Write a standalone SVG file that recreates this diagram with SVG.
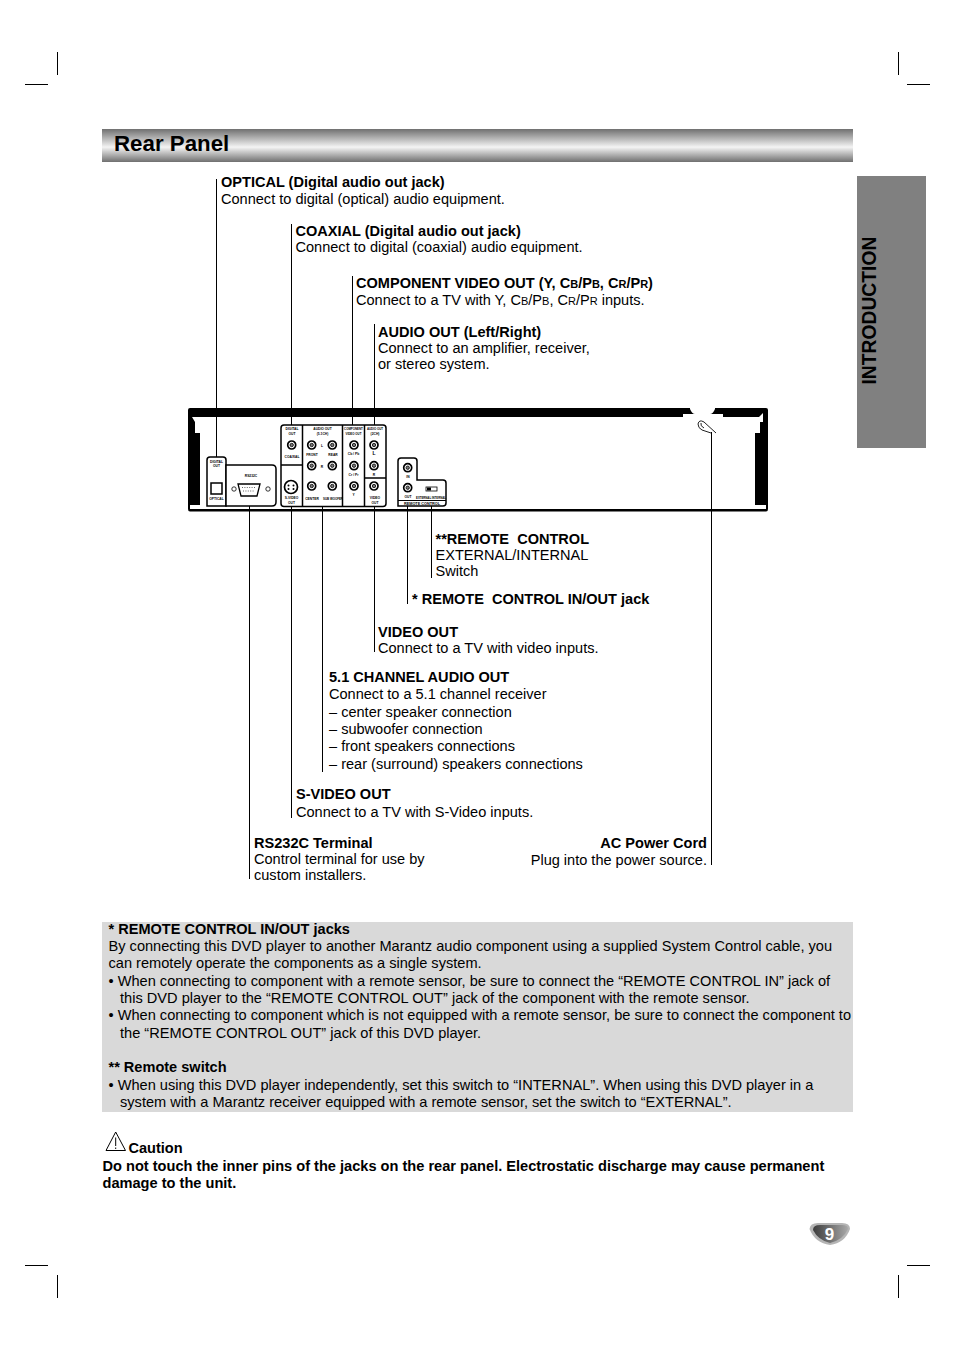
<svg xmlns="http://www.w3.org/2000/svg" width="954" height="1351" viewBox="0 0 954 1351">
<style>
text{font-family:"Liberation Sans",Arial,sans-serif;font-size:14.55px;fill:#000}
.b{font-weight:bold}
.s{font-size:11px}
.m{stroke:#000;stroke-width:1;fill:none}
.l{stroke:#000;stroke-width:1;fill:none}
.p{stroke:#000;stroke-width:1.5;fill:#fff}
.t{font-size:3.3px;font-weight:bold;text-anchor:middle}
.j1{fill:#fff;stroke:#000;stroke-width:1.7}
.j2{fill:#777;stroke:#000;stroke-width:.8}
</style>
<defs>
<linearGradient id="hdr" x1="0" y1="0" x2="0" y2="1">
<stop offset="0" stop-color="#707070"/><stop offset=".55" stop-color="#f4f4f4"/><stop offset="1" stop-color="#707070"/>
</linearGradient>
<linearGradient id="badge" x1="0" y1="0" x2="1" y2="0">
<stop offset="0" stop-color="#3c3c3c"/><stop offset="1" stop-color="#a8a8a8"/>
</linearGradient>
<g id="jack"><circle r="4" class="j1"/><circle r="1.7" class="j2"/></g>
</defs>
<rect width="954" height="1351" fill="#fff"/>

<g id="crop-marks">
<path class="m" d="M57.5 52V75M25 84.500H48M898.500 52V75M907 84.500H930M57.500 1275V1298M25 1265.500H48M898.500 1275V1298M907 1265.500H930"/>
</g>

<g id="header">
<rect x="102" y="129" width="751" height="33" fill="url(#hdr)"/>
<text x="114" y="151" class="b" style="font-size:22.300px">Rear Panel</text>
</g>

<g id="side-tab">
<rect x="857" y="176" width="69" height="272" fill="#808080"/>
<text transform="translate(876 384.500) rotate(-90)" class="b" style="font-size:19.300px">INTRODUCTION</text>
</g>

<g id="connectors">
<path class="l" d="M216.500 179V457M291.500 224V425M352.500 276V425M374.500 324V425M249.500 490V879M291.500 506V818M322.500 506V772M374.500 506V652M407.500 506V604M431.500 505V578M711.500 432V865"/>
</g>

<g id="rear-panel">
<path fill="#000" fill-rule="evenodd" d="M190 408H766Q768 408 768 410V509Q768 511.500 766 511.500H190Q188 511.500 188 509V410Q188 408 190 408ZM192 417H683V414H723V417H759L763 413V422H760V433H755V505H766V509H190V505H200V433H195V422Z"/>
<path fill="#fff" d="M690 407H715V409Q713 414 710 414H695Q692 414 690 409Z"/>
<g id="ac-cord" fill="none" stroke="#222" stroke-width="1">
<path d="M698 424Q699 419 704 422L716 433"/><path d="M698 424Q698 428 702 430L711 433"/><path d="M701 423Q700 426 704 428"/>
</g>
<g id="optical-block">
<path class="p" d="M207 506V460Q207 457 210 457H223Q226 457 226 460V506Z"/>
<rect x="211" y="483" width="11" height="11" fill="#fff" stroke="#000" stroke-width="1.500"/>
<text x="216.500" y="462.500" class="t">DIGITAL</text><text x="216.500" y="467" class="t">OUT</text>
<text x="216.500" y="500" class="t">OPTICAL</text>
</g>
<g id="rs232-block">
<path class="p" d="M226 465H272Q276 465 276 469V502Q276 506 272 506H226Z"/>
<text x="251" y="477" class="t">RS232C</text>
<path d="M238 484H260L257 496H241Z" fill="#fff" stroke="#000" stroke-width="1.300"/>
<path d="M242 487.500H256M243 491H255" stroke="#555" stroke-width=".9" stroke-dasharray="1 1.400"/>
<circle cx="234" cy="489" r="2.200" fill="#fff" stroke="#000" stroke-width=".8"/>
<circle cx="268" cy="489" r="2.200" fill="#fff" stroke="#000" stroke-width=".8"/>
</g>
<g id="main-block">
<rect x="281" y="425" width="105" height="81.500" rx="3" class="p"/>
<path stroke="#000" stroke-width="1.500" fill="none" d="M302.500 425V506M342.500 425V506M364.500 425V506M281 465H302.500M364.500 478H386"/>
<use href="#jack" x="291.700" y="445"/>
<use href="#jack" x="311.700" y="445"/><use href="#jack" x="332.300" y="445"/>
<use href="#jack" x="311.700" y="465.700"/><use href="#jack" x="332.300" y="465.700"/>
<use href="#jack" x="311.700" y="486"/><use href="#jack" x="332.300" y="486"/>
<use href="#jack" x="354" y="445"/><use href="#jack" x="354" y="465.700"/><use href="#jack" x="354" y="486"/>
<use href="#jack" x="374" y="445"/><use href="#jack" x="374" y="465.700"/><use href="#jack" x="374" y="486"/>
<circle cx="291" cy="487" r="6.500" fill="#fff" stroke="#000" stroke-width="1.700"/>
<circle cx="288.500" cy="485.500" r="1" fill="#000"/><circle cx="293.500" cy="485.500" r="1" fill="#000"/><circle cx="288.500" cy="489" r="1" fill="#000"/><circle cx="293.500" cy="489" r="1" fill="#000"/>
<text x="292" y="430" class="t">DIGITAL</text><text x="292" y="434.500" class="t">OUT</text><text x="292" y="457.500" class="t">COAXIAL</text>
<text x="322.500" y="430" class="t">AUDIO OUT</text><text x="322.500" y="434.500" class="t">(5.1CH)</text>
<text x="322" y="447" class="t">L</text><text x="322" y="467.500" class="t">R</text>
<text x="312" y="456" class="t">FRONT</text><text x="333" y="456" class="t">REAR</text>
<text x="312" y="500" class="t">CENTER</text><text x="333" y="500" class="t" style="font-size:2.900px">SUB WOOFER</text>
<text x="353.500" y="430" class="t" style="font-size:2.900px">COMPONENT</text><text x="353.500" y="434.500" class="t" style="font-size:2.900px">VIDEO OUT</text>
<text x="353.500" y="455" class="t">Cb / Pb</text><text x="353.500" y="476" class="t">Cr / Pr</text><text x="353.500" y="496" class="t">Y</text>
<text x="375" y="430" class="t" style="font-size:2.900px">AUDIO OUT</text><text x="375" y="434.500" class="t">(2CH)</text>
<text x="374" y="455" class="t" style="font-size:5px">L</text><text x="374" y="476" class="t">R</text>
<text x="375" y="499" class="t">VIDEO</text><text x="375" y="504" class="t">OUT</text>
<text x="291.500" y="499" class="t">S-VIDEO</text><text x="291.500" y="504" class="t">OUT</text>
</g>
<g id="remote-block">
<path class="p" d="M398 506V461Q398 458 401 458H414Q417 458 417 461V480H443Q446 480 446 483V503Q446 506 443 506Z"/>
<path stroke="#000" stroke-width="1" d="M398 500.500H446"/>
<use href="#jack" x="407.700" y="467.700"/><use href="#jack" x="407.700" y="487.700"/>
<text x="408" y="478" class="t">IN</text><text x="408" y="498" class="t">OUT</text>
<rect x="426" y="487" width="11" height="4" fill="#fff" stroke="#000" stroke-width=".8"/><rect x="427" y="487.500" width="4" height="3" fill="#000"/>
<text x="431" y="498.500" class="t" style="font-size:2.800px">EXTERNAL INTERNAL</text>
<text x="422" y="505" class="t" style="font-size:3.800px">REMOTE CONTROL</text>
</g>
</g>

<g id="label-optical"><text x="221" y="187" class="b">OPTICAL (Digital audio out jack)</text><text x="221" y="204">Connect to digital (optical) audio equipment.</text></g>
<g id="label-coaxial"><text x="295.500" y="236" class="b">COAXIAL (Digital audio out jack)</text><text x="295.500" y="252">Connect to digital (coaxial) audio equipment.</text></g>
<g id="label-component"><text x="356" y="288" class="b">COMPONENT VIDEO OUT (Y, C<tspan class="s">B</tspan>/P<tspan class="s">B</tspan>, C<tspan class="s">R</tspan>/P<tspan class="s">R</tspan>)</text><text x="356" y="305">Connect to a TV with Y, C<tspan class="s">B</tspan>/P<tspan class="s">B</tspan>, C<tspan class="s">R</tspan>/P<tspan class="s">R</tspan> inputs.</text></g>
<g id="label-audio"><text x="378" y="337" class="b">AUDIO OUT (Left/Right)</text><text x="378" y="353">Connect to an amplifier, receiver,</text><text x="378" y="369">or stereo system.</text></g>
<g id="label-remote-switch"><text x="435.500" y="544" class="b" xml:space="preserve">**REMOTE  CONTROL</text><text x="435.500" y="560">EXTERNAL/INTERNAL</text><text x="435.500" y="576">Switch</text></g>
<g id="label-remote-jack"><text x="412" y="604" class="b" xml:space="preserve">* REMOTE  CONTROL IN/OUT jack</text></g>
<g id="label-video"><text x="378" y="637" class="b">VIDEO OUT</text><text x="378" y="653">Connect to a TV with video inputs.</text></g>
<g id="label-51"><text x="329" y="682" class="b">5.1 CHANNEL AUDIO OUT</text><text x="329" y="699">Connect to a 5.1 channel receiver</text><text x="329" y="717">– center speaker connection</text><text x="329" y="734">– subwoofer connection</text><text x="329" y="751">– front speakers connections</text><text x="329" y="769">– rear (surround) speakers connections</text></g>
<g id="label-svideo"><text x="296" y="799" class="b">S-VIDEO OUT</text><text x="296" y="817">Connect to a TV with S-Video inputs.</text></g>
<g id="label-rs232"><text x="254" y="848" class="b">RS232C Terminal</text><text x="254" y="864">Control terminal for use by</text><text x="254" y="880">custom installers.</text></g>
<g id="label-ac"><text x="707" y="848" class="b" text-anchor="end">AC Power Cord</text><text x="707" y="865" text-anchor="end">Plug into the power source.</text></g>

<g id="notes">
<rect x="102" y="922" width="751" height="190" fill="#d9d9d9"/>
<text x="108.500" y="934" class="b">* REMOTE CONTROL IN/OUT jacks</text>
<text x="108.500" y="951" style="font-size:14.600px">By connecting this DVD player to another Marantz audio component using a supplied System Control cable, you</text>
<text x="108.500" y="968" style="font-size:14.600px">can remotely operate the components as a single system.</text>
<text x="108.500" y="986" style="font-size:14.600px">• When connecting to component with a remote sensor, be sure to connect the “REMOTE CONTROL IN” jack of</text>
<text x="120" y="1003" style="font-size:14.600px">this DVD player to the “REMOTE CONTROL OUT” jack of the component with the remote sensor.</text>
<text x="108.500" y="1020" style="font-size:14.600px">• When connecting to component which is not equipped with a remote sensor, be sure to connect the component to</text>
<text x="120" y="1038" style="font-size:14.600px">the “REMOTE CONTROL OUT” jack of this DVD player.</text>
<text x="108.500" y="1072" class="b">** Remote switch</text>
<text x="108.500" y="1090" style="font-size:14.600px">• When using this DVD player independently, set this switch to “INTERNAL”. When using this DVD player in a</text>
<text x="120" y="1107" style="font-size:14.600px">system with a Marantz receiver equipped with a remote sensor, set the switch to “EXTERNAL”.</text>
</g>

<g id="caution">
<path d="M115.700 1132L106 1150.500H125.500Z" fill="#fff" stroke="#000" stroke-width="1"/>
<path d="M115.700 1137.500V1146M115.700 1147.500V1149" stroke="#000" stroke-width="1"/>
<text x="128.500" y="1153" class="b">Caution</text>
<text x="102.500" y="1171" class="b" style="font-size:14.600px">Do not touch the inner pins of the jacks on the rear panel. Electrostatic discharge may cause permanent</text>
<text x="102.500" y="1188" class="b" style="font-size:14.600px">damage to the unit.</text>
</g>

<g id="page-badge">
<path d="M809.500 1229Q810 1223 818 1223H842Q850 1223 850 1229Q845 1243 830 1245Q815 1243 809.500 1229Z" fill="#b5b5b5"/>
<path d="M813 1230Q813 1225 820 1225H842Q848 1225 848 1229Q843 1240 830 1243Q818 1240 813 1230Z" fill="url(#badge)"/>
<text x="829.500" y="1240" class="b" text-anchor="middle" style="font-size:17px;fill:#fff">9</text>
</g>
</svg>
